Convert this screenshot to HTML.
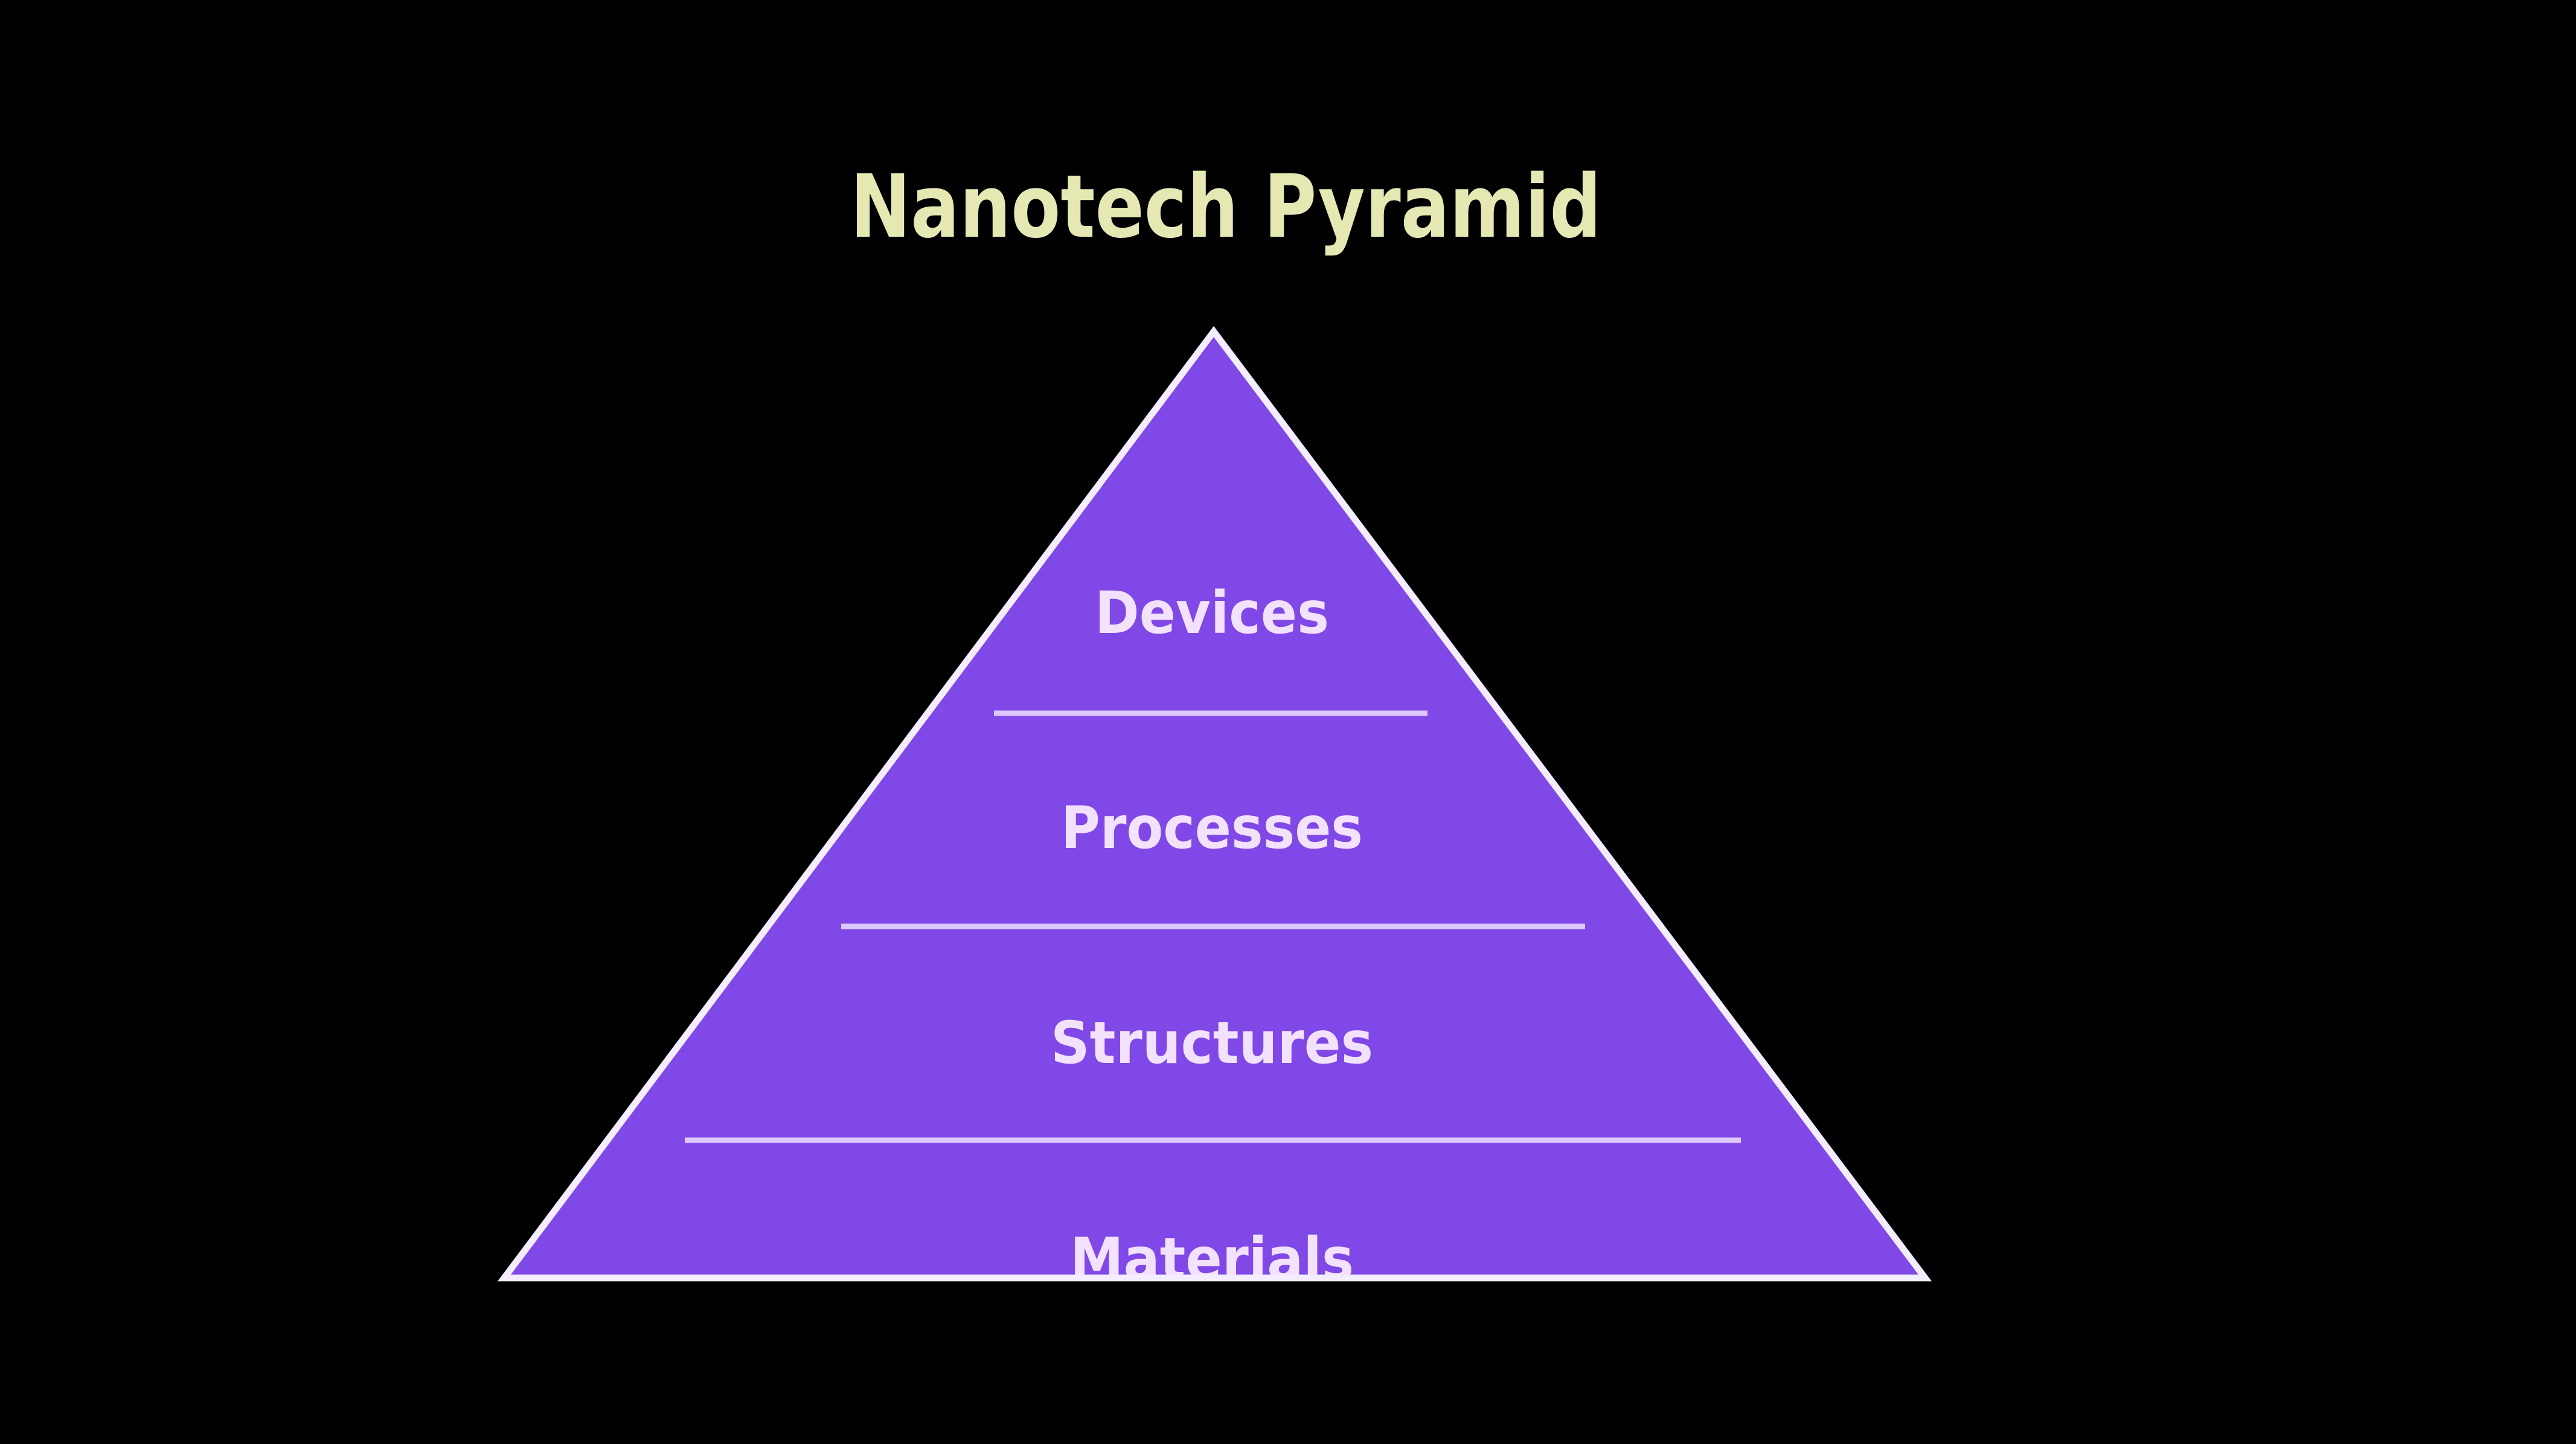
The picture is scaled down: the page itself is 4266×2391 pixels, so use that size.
<!DOCTYPE html>
<html><head><meta charset="utf-8"><style>
html,body{margin:0;padding:0;background:#000;}
svg{display:block;}
</style></head><body>
<svg width="4266" height="2391" viewBox="0 0 4266 2391" xmlns="http://www.w3.org/2000/svg">
<rect width="4266" height="2391" fill="#000"/>
<text x="2030" y="392" text-anchor="middle" font-family="DejaVu Sans, Liberation Sans, sans-serif" font-weight="bold" font-size="144" fill="#e6e8b4" textLength="1244" lengthAdjust="spacingAndGlyphs">Nanotech Pyramid</text>
<defs><clipPath id="c"><polygon points="2010,549 835,2112 3188,2112"/></clipPath></defs>
<polygon points="2010,549 835,2116 3188,2116" fill="#8048e6" stroke="#f4ecff" stroke-width="11" stroke-linejoin="miter"/>
<g stroke="#dcc8ff" stroke-width="9">
<line x1="1646" y1="1181" x2="2364" y2="1181"/>
<line x1="1393" y1="1534" x2="2625" y2="1534"/>
<line x1="1134" y1="1888" x2="2883" y2="1888"/>
</g>
<g font-family="DejaVu Sans, Liberation Sans, sans-serif" font-weight="bold" font-size="96" fill="#f3e2ff" text-anchor="middle">
<text x="2007" y="1048" textLength="388" lengthAdjust="spacingAndGlyphs">Devices</text>
<text x="2007" y="1404" textLength="500" lengthAdjust="spacingAndGlyphs">Processes</text>
<text x="2007" y="1760" textLength="534" lengthAdjust="spacingAndGlyphs">Structures</text>
<g clip-path="url(#c)"><text x="2007" y="2118" textLength="470" lengthAdjust="spacingAndGlyphs">Materials</text></g>
</g>
<line x1="835" y1="2116" x2="3188" y2="2116" stroke="#f4ecff" stroke-width="11"/>
</svg>
</body></html>
